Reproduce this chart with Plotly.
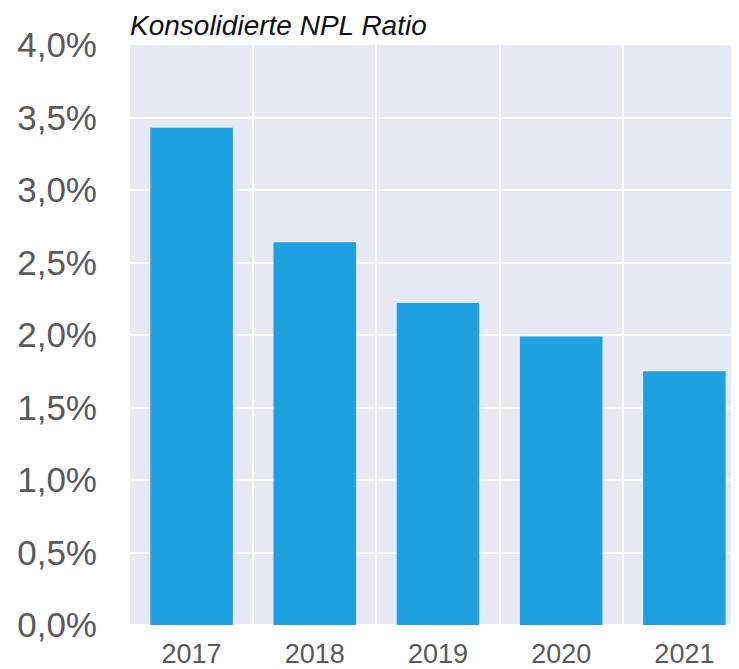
import plotly.graph_objects as go

years = ["2017", "2018", "2019", "2020", "2021"]
npl_ratio = [3.43, 2.64, 2.22, 1.99, 1.75]
y_ticks = [0, 0.5, 1.0, 1.5, 2.0, 2.5, 3.0, 3.5, 4.0]
y_tick_labels = ["0,0%", "0,5%", "1,0%", "1,5%", "2,0%", "2,5%", "3,0%", "3,5%", "4,0%"]
title_text = "Konsolidierte NPL Ratio"

fig = go.Figure(go.Bar(x=years, y=npl_ratio, marker_color="#1FA0E1",
                       marker_line_width=0, width=0.67))

fig.update_layout(
    width=738, height=661,
    margin=dict(l=122, r=0, t=37, b=44),
    plot_bgcolor="#E6E9F1", paper_bgcolor="white",
    showlegend=False,
    font=dict(family="Liberation Sans, Arial, sans-serif", color="#595959"),
    annotations=[dict(text="<i>" + title_text + "</i>", xref="paper", yref="paper", x=0, y=1,
                      xanchor="left", yanchor="bottom", yshift=2, xshift=-2, showarrow=False,
                      font=dict(size=28, color="#111111", family="Liberation Sans, Arial, sans-serif"),
                      )],
)

fig.update_xaxes(type="category", tickson="boundaries", showgrid=True, gridcolor="white",
                 gridwidth=1.5, ticks="", tickfont=dict(size=27, color="#595959"),
                 ticklabelstandoff=10)
fig.update_yaxes(range=[0, 4.0], tickvals=y_ticks, ticktext=y_tick_labels,
                 showgrid=True, gridcolor="white", gridwidth=2, zeroline=True,
                 zerolinecolor="white", zerolinewidth=2,
                 tickfont=dict(size=35, color="#595959"), ticklabelstandoff=32)

fig.write_html("out.html")
